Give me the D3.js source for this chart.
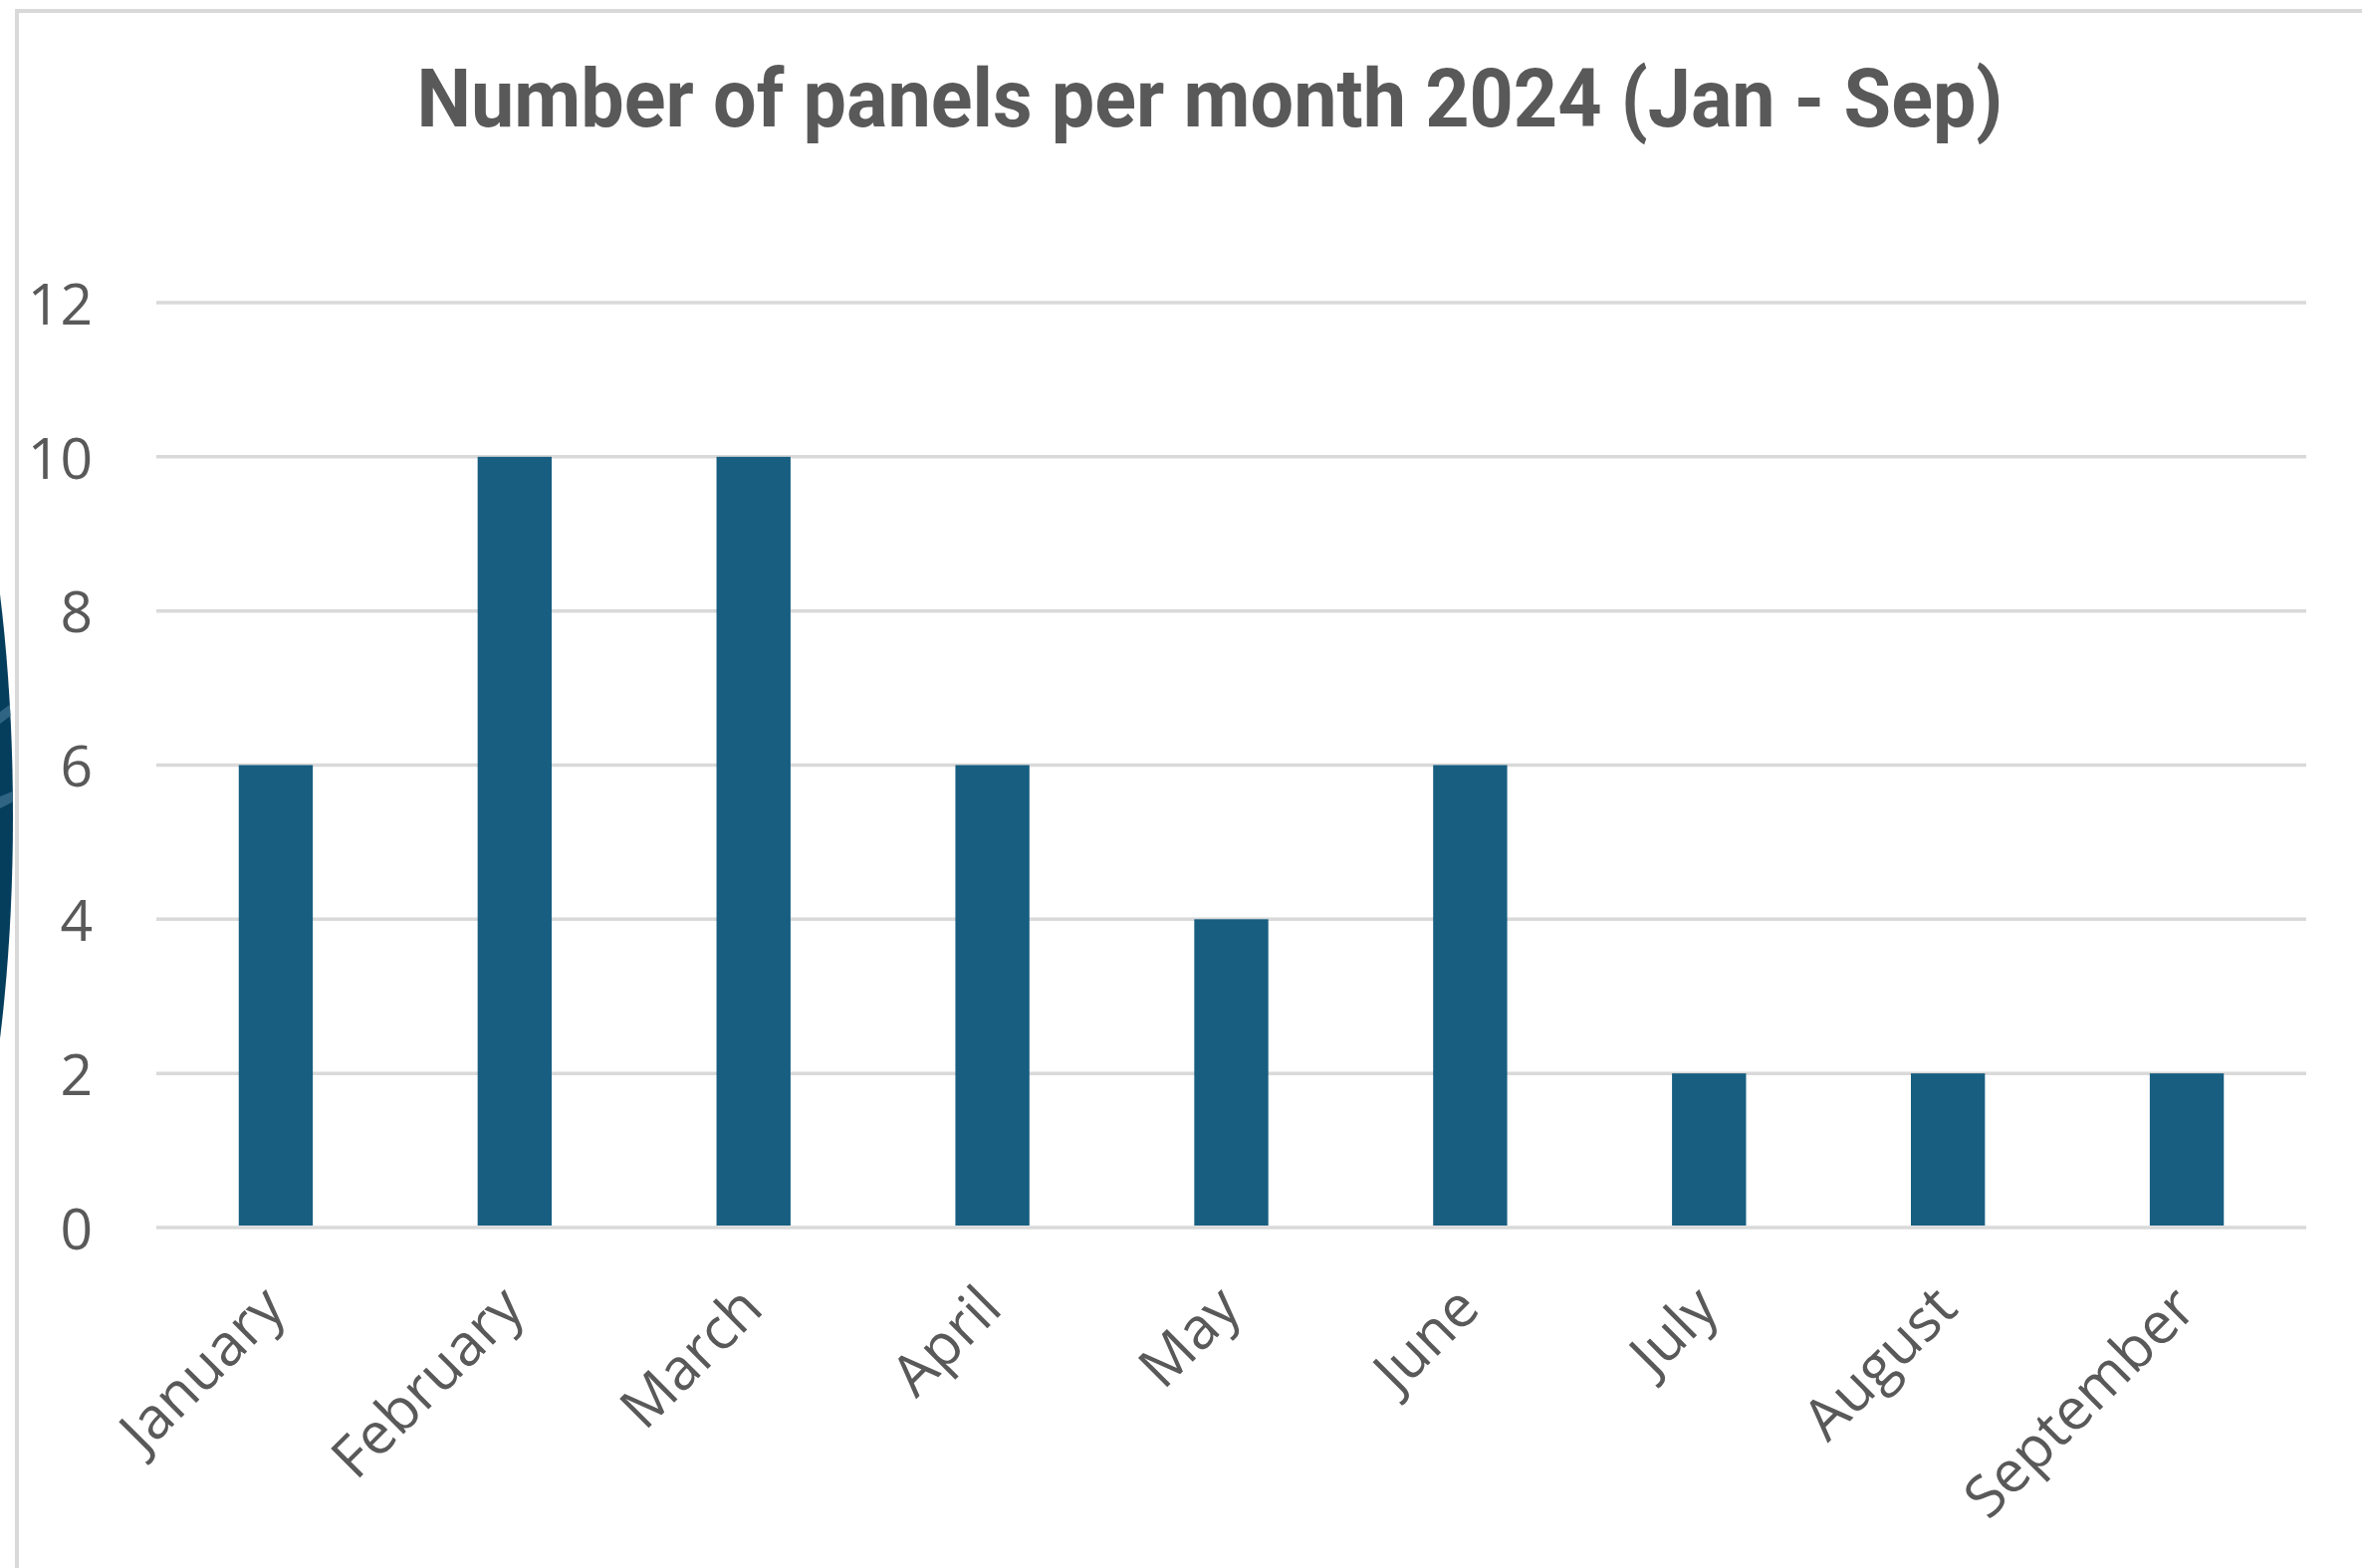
<!DOCTYPE html>
<html>
<head>
<meta charset="utf-8">
<script src="https://cdn.jsdelivr.net/npm/d3@7.9.0/dist/d3.min.js"></script>
<style>
  html, body { margin: 0; padding: 0; background: #fff; }
  svg { display: block; }
</style>
</head>
<body>
<div id="chart"></div>
<script>
const months = ['January', 'February', 'March', 'April', 'May', 'June', 'July', 'August', 'September'];
const panels = [6, 10, 10, 6, 4, 6, 2, 2, 2];
const yTicks = [0, 2, 4, 6, 8, 10, 12];
const title = 'Number of panels per month 2024 (Jan - Sep)';

const width = 2372;
const height = 1575;
const margin = { left: 157, right: 56, top: 304, bottom: 339 };

const svg = d3.select('#chart')
  .append('svg')
  .attr('width', width)
  .attr('height', height);

// dark shape peeking in on the left edge
const clip = svg.append('clipPath').attr('id', 'edge');
clip.append('ellipse')
  .attr('cx', -100).attr('cy', 820).attr('rx', 113).attr('ry', 479);
const edge = svg.append('g').attr('clip-path', 'url(#edge)');
edge.append('rect')
  .attr('x', 0).attr('y', 300).attr('width', 20).attr('height', 1100)
  .attr('fill', '#053d5d');
edge.append('path')
  .attr('d', 'M0,715 L20,700 L20,712 L0,727 Z M0,800 L20,792 L20,802 L0,812 Z')
  .attr('fill', '#2f6582');

// outer frame
svg.append('path')
  .attr('d', `M17,${height} L17,11 L${width},11`)
  .attr('fill', 'none')
  .attr('stroke', '#d9d9d9')
  .attr('stroke-width', 4);

const x = d3.scaleBand()
  .domain(months)
  .range([margin.left, width - margin.right])
  .paddingInner(0.69)
  .paddingOuter(0.345);

const y = d3.scaleLinear()
  .domain([0, 12])
  .range([height - margin.bottom - 3, margin.top]);

// gridlines
svg.append('g')
  .selectAll('line')
  .data(yTicks)
  .join('line')
  .attr('x1', margin.left)
  .attr('x2', width - margin.right)
  .attr('y1', d => y(d))
  .attr('y2', d => y(d))
  .attr('stroke', '#d9d9d9')
  .attr('stroke-width', 3.5);

// y axis labels
const yAxis = svg.append('g')
  .attr('transform', `translate(93,3)`)
  .call(d3.axisLeft(y).tickValues(yTicks).tickSize(0).tickPadding(0));
yAxis.select('.domain').remove();
yAxis.selectAll('text')
  .attr('fill', '#595959')
  .style('font-family', '"Open Sans", "Noto Sans", sans-serif')
  .style('font-size', '57px');

// bars
svg.append('g')
  .selectAll('rect')
  .data(panels)
  .join('rect')
  .attr('x', (d, i) => x(months[i]))
  .attr('y', d => y(d))
  .attr('width', x.bandwidth())
  .attr('height', d => y(0) - y(d) - 2)
  .attr('fill', '#175e81');

// x axis labels, rotated
svg.append('g')
  .selectAll('text')
  .data(months)
  .join('text')
  .attr('transform', d => `translate(${x(d) + x.bandwidth() / 2 + 12},${y(0) + 84}) rotate(-45)`)
  .attr('text-anchor', 'end')
  .attr('fill', '#595959')
  .style('font-family', '"Open Sans", "Noto Sans", sans-serif')
  .style('font-size', '58px')
  .text(d => d);

// title
svg.append('text')
  .attr('x', 1215)
  .attr('y', 127)
  .attr('text-anchor', 'middle')
  .attr('fill', '#595959')
  .attr('textLength', 1593)
  .attr('lengthAdjust', 'spacingAndGlyphs')
  .style('font-family', '"Liberation Sans Narrow", "Roboto", sans-serif')
  .style('font-weight', 'bold')
  .style('font-size', '82px')
  .text(title);
</script>
</body>
</html>
